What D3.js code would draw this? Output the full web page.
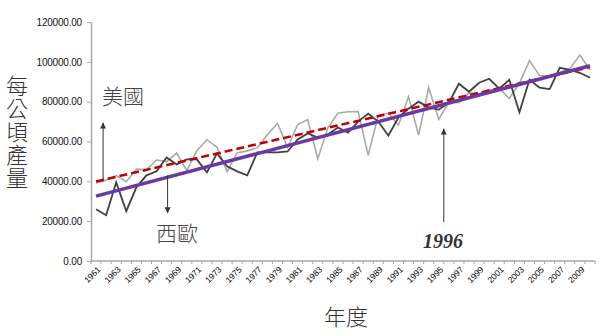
<!DOCTYPE html>
<html><head><meta charset="utf-8">
<script src="https://cdn.jsdelivr.net/npm/d3@7/dist/d3.min.js"></script>
<style>body{margin:0;background:#fff}</style></head>
<body><svg id="c" width="600" height="336"></svg>
<script>
const years = [1961,1962,1963,1964,1965,1966,1967,1968,1969,1970,
  1971,1972,1973,1974,1975,1976,1977,1978,1979,1980,
  1981,1982,1983,1984,1985,1986,1987,1988,1989,1990,
  1991,1992,1993,1994,1995,1996,1997,1998,1999,2000,
  2001,2002,2003,2004,2005,2006,2007,2008,2009,2010];
// light grey line (USA)
const usaYield = [39200,40600,42900,39800,46100,45900,50700,49900,54200,45400,
  55400,60900,57100,44900,54300,55300,56900,63400,69100,57100,
  68400,71000,51400,66900,74200,74900,75000,53100,73100,74300,
  68200,82500,63200,87000,71100,79800,79500,84400,84000,85900,
  86700,81600,89300,100600,93100,93000,94700,96600,103400,95900];
// dark grey line (Western Europe)
const westEuropeYield = [26000,23000,39500,25000,37000,43000,45000,52000,48500,51000,
  51000,44500,54000,47500,45000,43000,54500,54500,54500,55000,
  61000,64000,62000,63500,67000,64500,70000,74000,70000,63000,
  72000,76500,80000,77000,76000,79500,89000,85000,89500,91500,
  86500,91000,74700,91000,87000,86300,97000,96000,94500,92000];
const yTicks = [0,20000,40000,60000,80000,100000,120000];
const labelYears = years.filter((d,i)=>i%2===0);
const yTitle = '每公頃產量';
const xTitle = '年度';
const notes = {usa:'美國', weu:'西歐', year:'1996'};

const svg = d3.select('#c');
const x = d3.scaleBand().domain(years).range([91,595]);
const cx = d => x(d) + x.bandwidth()/2;
const xl = d3.scaleLinear().domain([years[0], years[years.length-1]]).range([cx(years[0]), cx(years[years.length-1])]);
const y = d3.scaleLinear().domain([0,120000]).range([261,22]);

svg.append('defs').append('marker').attr('id','ah').attr('viewBox','0 0 10 10')
  .attr('refX',10).attr('refY',5).attr('markerWidth',6).attr('markerHeight',6)
  .attr('orient','auto-start-reverse').attr('markerUnits','userSpaceOnUse')
  .append('path').attr('d','M0,0L10,5L0,10z').attr('fill','#333');

// y axis
const ya = svg.append('g').attr('transform','translate(91,0)')
  .call(d3.axisLeft(y).tickValues(yTicks).tickFormat(d=>d.toFixed(2)).tickSize(4).tickSizeOuter(0).tickPadding(5));
ya.select('.domain').attr('stroke','#a6a6a6').attr('stroke-width',1.5);
ya.selectAll('.tick line').attr('stroke','#a6a6a6');
ya.selectAll('.tick text').attr('font-family','Liberation Sans, Arial, sans-serif').attr('font-size',10).attr('fill','#111').attr('letter-spacing','-0.2');

// x axis
const xa = svg.append('g').attr('transform','translate(0,261)');
xa.append('line').attr('x1',91).attr('x2',595).attr('stroke','#a6a6a6').attr('stroke-width',1.5);
xa.selectAll('line.tk').data(years.concat(['end'])).enter().append('line').attr('class','tk')
  .attr('x1',d=>d==='end'?595:x(d)).attr('x2',d=>d==='end'?595:x(d)).attr('y1',0).attr('y2',3)
  .attr('stroke','#a6a6a6');
xa.selectAll('text').data(labelYears).enter().append('text')
  .attr('transform',d=>`translate(${cx(d)+3},7) rotate(-45)`)
  .attr('text-anchor','end').attr('dy','0.35em')
  .attr('font-family','Liberation Sans, Arial, sans-serif').attr('font-size',8.5).attr('fill','#000')
  .text(d=>d);

// series
const line = vals => d3.line().x((d,i)=>cx(years[i])).y(d=>y(d))(vals);
svg.append('path').attr('d',line(usaYield)).attr('fill','none').attr('stroke','#a9a9a9').attr('stroke-width',1.6).attr('stroke-linejoin','miter');
svg.append('path').attr('d',line(westEuropeYield)).attr('fill','none').attr('stroke','#404040').attr('stroke-width',1.8).attr('stroke-linejoin','miter');

function linreg(vals){
  const xs = years;
  const mx = d3.mean(xs), my = d3.mean(vals);
  let sxy=0, sxx=0;
  xs.forEach((t,i)=>{sxy+=(t-mx)*(vals[i]-my); sxx+=(t-mx)*(t-mx);});
  const b = sxy/sxx;
  return t => my + b*(t-mx);
}
const fu = linreg(usaYield), fw = linreg(westEuropeYield);
const ends = [years[0], years[years.length-1]];
svg.append('line').attr('x1',cx(ends[0])).attr('x2',cx(ends[1])).attr('y1',y(fu(ends[0]))).attr('y2',y(fu(ends[1])))
  .attr('stroke','#c00000').attr('stroke-width',2.5).attr('stroke-dasharray','8,4');
svg.append('line').attr('x1',cx(ends[0])).attr('x2',cx(ends[1])).attr('y1',y(fw(ends[0]))).attr('y2',y(fw(ends[1])))
  .attr('stroke','#6a3aa0').attr('stroke-width',3.5);

// annotations
const arrow = (yr, v0, v1) => svg.append('line').attr('x1',xl(yr)).attr('x2',xl(yr)).attr('y1',y(v0)).attr('y2',y(v1))
  .attr('stroke','#333').attr('stroke-width',1).attr('marker-end','url(#ah)');
arrow(1961.7, 40000, 69500);
arrow(1968.1, 43000, 24000);
arrow(1995.5, 19500, 66500);

const cjk = '"Noto Sans CJK TC", "Noto Sans CJK SC", sans-serif';
svg.append('text').attr('x',102).attr('y',104).attr('font-family',cjk).attr('font-weight',300).attr('font-size',21).attr('fill','#444').text(notes.usa);
svg.append('text').attr('x',156).attr('y',241).attr('font-family',cjk).attr('font-weight',300).attr('font-size',21).attr('fill','#444').text(notes.weu);
svg.append('text').attr('x',423).attr('y',248).attr('font-family','Liberation Serif, Times New Roman, serif').attr('font-weight','bold').attr('font-style','italic').attr('font-size',20).attr('fill','#333').text(notes.year);

svg.append('text').attr('x',17).attr('y',75)
  .style('writing-mode','vertical-rl').style('text-orientation','upright')
  .attr('letter-spacing',0.8)
  .attr('font-family',cjk).attr('font-weight',300).attr('font-size',22).attr('fill','#333').text(yTitle);
svg.append('text').attr('x',346).attr('y',325).attr('text-anchor','middle')
  .attr('font-family',cjk).attr('font-weight',300).attr('font-size',22).attr('fill','#333').text(xTitle);
</script></body></html>
